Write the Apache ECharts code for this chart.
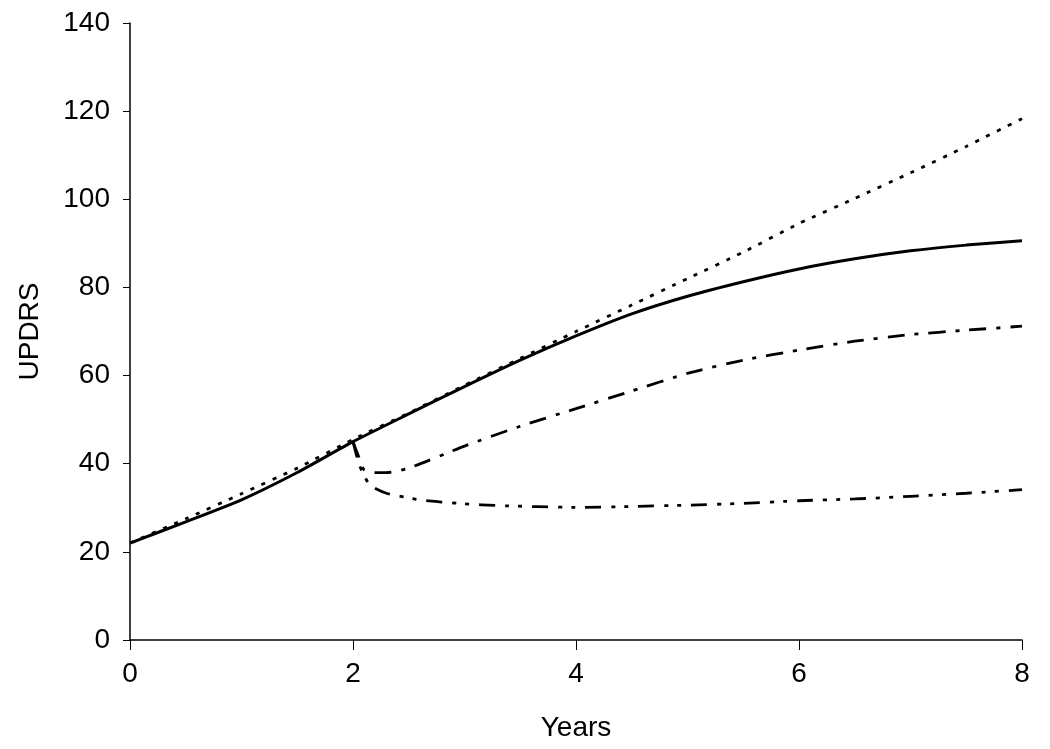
<!DOCTYPE html>
<html>
<head>
<meta charset="utf-8">
<script src="https://cdn.jsdelivr.net/npm/echarts@6/dist/echarts.min.js"></script>
<style>
  html, body { margin: 0; padding: 0; background: #fff; }
  #chart { width: 1050px; height: 749px; }
</style>
</head>
<body>
<div id="chart"></div>
<script>
// years and UPDRS readings
var dottedYears = [0, 0.5, 1, 1.5, 2, 2.5, 3, 3.5, 4, 4.5, 5, 5.5, 6, 6.5, 7, 7.5, 8];
var dottedVals  = [22, 27.5, 33.2, 39, 45.5, 51.5, 57.8, 63.9, 70, 76, 82, 88, 94.5, 100.2, 106, 112, 118.3];

var solidYears = [0, 0.5, 1, 1.5, 2, 2.5, 3, 3.5, 4, 4.5, 5, 5.5, 6, 6.5, 7, 7.5, 8];
var solidVals  = [22, 26.8, 31.8, 38, 45, 51.3, 57.5, 63.5, 69, 74, 78, 81.3, 84.2, 86.5, 88.3, 89.6, 90.6];

var upperYears = [2, 2.06, 2.1, 2.2, 2.3, 2.5, 3, 3.5, 4, 4.5, 5, 5.5, 6, 6.5, 7, 7.5, 8];
var upperVals  = [45, 41, 38.6, 38, 38, 39, 44, 48.5, 52.5, 56.5, 60.5, 63.5, 65.8, 67.8, 69.3, 70.3, 71.2];

var lowerYears = [2, 2.06, 2.15, 2.3, 2.6, 2.8, 3, 3.3, 4, 4.5, 5, 5.5, 6, 6.5, 7, 7.5, 8];
var lowerVals  = [45, 39.5, 35.2, 33.3, 31.8, 31.3, 30.9, 30.5, 30.1, 30.3, 30.6, 31, 31.6, 32, 32.6, 33.3, 34.1];

var xTicks = [0, 2, 4, 6, 8];
var yTicks = [0, 20, 40, 60, 80, 100, 120, 140];

function pairs(xs, ys) {
  return xs.map(function (x, i) { return [x, ys[i]]; });
}

var chart = echarts.init(document.getElementById('chart'), null, { renderer: 'canvas' });
var font = 'Liberation Sans, Arial, Helvetica, sans-serif';

function makeLine(name, xs, ys, type, width) {
  return {
    name: name,
    type: 'line',
    data: pairs(xs, ys),
    symbol: 'none',
    smooth: 0.2,
    lineStyle: { color: '#000', width: width, type: type },
    animation: false
  };
}

var option = {
  backgroundColor: '#fff',
  animation: false,
  grid: { left: 130, right: 28, top: 23, bottom: 109 },
  xAxis: {
    type: 'value',
    min: xTicks[0],
    max: xTicks[xTicks.length - 1],
    interval: 2,
    name: 'Years',
    nameLocation: 'middle',
    nameGap: 74,
    nameTextStyle: { fontFamily: font, fontSize: 28, color: '#000' },
    axisLine: { show: true, onZero: false, lineStyle: { color: '#000', width: 1.5 } },
    axisTick: { show: true, length: 10, lineStyle: { color: '#000', width: 1 } },
    axisLabel: { fontFamily: font, fontSize: 28, color: '#000', margin: 20 },
    splitLine: { show: false }
  },
  yAxis: {
    type: 'value',
    min: yTicks[0],
    max: yTicks[yTicks.length - 1],
    interval: 20,
    name: 'UPDRS',
    nameLocation: 'middle',
    nameGap: 86,
    nameRotate: 90,
    nameTextStyle: { fontFamily: font, fontSize: 28, color: '#000' },
    axisLine: { show: true, lineStyle: { color: '#000', width: 1.5 } },
    axisTick: { show: true, length: 7, lineStyle: { color: '#000', width: 1 } },
    axisLabel: { fontFamily: font, fontSize: 28, color: '#000', margin: 20 },
    splitLine: { show: false }
  },
  series: [
    makeLine('dotted', dottedYears, dottedVals, [4, 8], 2.8),
    makeLine('solid', solidYears, solidVals, 'solid', 3),
    makeLine('dashdot', upperYears, upperVals, [17, 10, 4, 10], 2.8),
    makeLine('dashdotdot', lowerYears, lowerVals, [16, 10, 4, 9, 4, 10], 2.8)
  ]
};

chart.setOption(option);
</script>
</body>
</html>
